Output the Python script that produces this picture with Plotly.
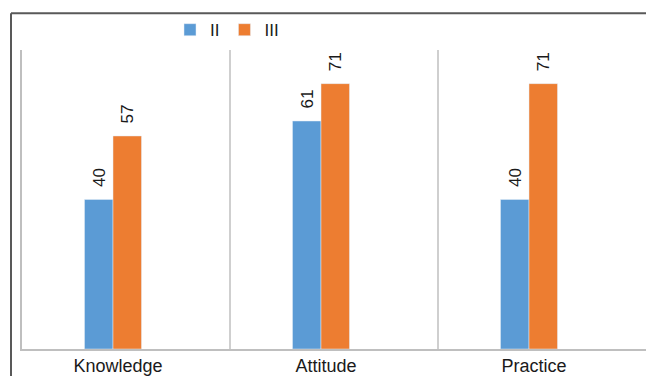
import plotly.graph_objects as go

categories = ["Knowledge", "Attitude", "Practice"]
series_ii = [40, 61, 40]
series_iii = [57, 71, 71]

blue = "#5B9BD5"
orange = "#ED7D31"
grid = "#BFBFBF"
frame = "#595959"
font_family = "Liberation Sans, Arial, sans-serif"

W, H = 646, 376
ml, mr, mt, mb = 22, 0, 50, 25

x_pos = list(range(len(categories)))

# leading non-breaking spaces lift the rotated value labels off the bar tops
label_tpl = "\u00a0\u00a0%{y}"

fig = go.Figure()
fig.add_trace(go.Bar(
    x=x_pos, y=series_ii, name="II", marker_color=blue,
    texttemplate=label_tpl, textposition="outside", textangle=-90,
    textfont=dict(size=19, color="#1a1a1a", family=font_family),
    cliponaxis=False,
))
fig.add_trace(go.Bar(
    x=x_pos, y=series_iii, name="III", marker_color=orange,
    texttemplate=label_tpl, textposition="outside", textangle=-90,
    textfont=dict(size=19, color="#1a1a1a", family=font_family),
    cliponaxis=False,
))

# category separators
for xd in [0.5625, 1.5625]:
    fig.add_shape(type="line", xref="x", yref="y", x0=xd, x1=xd, y0=0, y1=80,
                  line=dict(color=grid, width=1.5), layer="below")

# outer chart frame (top and left)
plot_w = W - ml - mr
plot_h = H - mt - mb
fx = (11 - ml) / plot_w
fy = 1 + (mt - 13) / plot_h
fig.add_shape(type="line", xref="paper", yref="paper", x0=fx, x1=1.0, y0=fy, y1=fy,
              line=dict(color=frame, width=2))
fig.add_shape(type="line", xref="paper", yref="paper", x0=fx, x1=fx, y0=fy, y1=-0.2,
              line=dict(color=frame, width=2))

fig.update_layout(
    width=W, height=H,
    margin=dict(l=ml, r=mr, t=mt, b=mb),
    paper_bgcolor="white", plot_bgcolor="white",
    barmode="group", bargap=0.726, bargroupgap=0,
    font=dict(family=font_family, size=18, color="#1a1a1a"),
    showlegend=True,
    legend=dict(orientation="h", x=(170 - ml) / plot_w, xanchor="left",
                y=1 + (mt - 30) / plot_h, yanchor="middle",
                font=dict(size=17), bgcolor="rgba(0,0,0,0)",
                itemwidth=30, tracegroupgap=0),
    xaxis=dict(
        range=[-0.4375, 2.5625], tickvals=x_pos, ticktext=categories,
        showgrid=False, zeroline=False, showline=True, linecolor=grid, linewidth=1.5,
        ticks="", ticklabelshift=5, ticklabelstandoff=0, tickfont=dict(size=18),
    ),
    yaxis=dict(
        range=[0, 80], showgrid=False, zeroline=False, showticklabels=False,
        showline=True, linecolor=grid, linewidth=1.5, ticks="",
    ),
)

fig.write_html("out.html")
